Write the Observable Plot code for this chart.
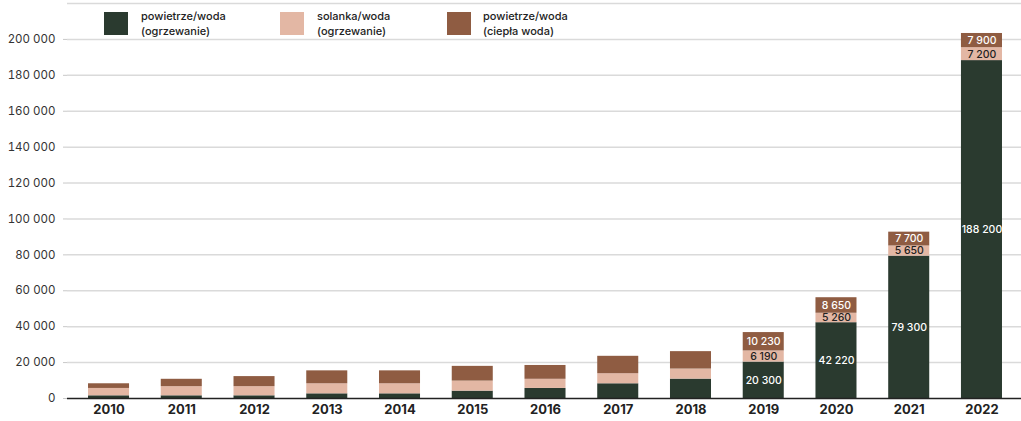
<!DOCTYPE html>
<html>
<head>
<meta charset="utf-8">
<script src="https://cdn.jsdelivr.net/npm/d3@7"></script>
<script src="https://cdn.jsdelivr.net/npm/@observablehq/plot@0.6"></script>
<style>
  body { margin: 0; background: #fff; font-family: Inter, "Noto Sans", sans-serif; }
  #chart { position: relative; width: 1021px; height: 421px; overflow: hidden; }
  .legend-item { position: absolute; top: 12px; }
  .swatch { position: absolute; top: 0; width: 24px; height: 23px; }
  .legend-label { position: absolute; top: -3px; font-size: 11px; line-height: 15px; font-weight: 500; color: #222; white-space: nowrap; }
</style>
</head>
<body>
<div id="chart"></div>
<script>
// Heat pump sales by type, stacked per year
const years = [2010, 2011, 2012, 2013, 2014, 2015, 2016, 2017, 2018, 2019, 2020, 2021, 2022];
const airHeating   = [1500, 1500, 1500, 2600, 2600, 4100, 5600, 8200, 10800, 20300, 42220, 79300, 188200];
const brineHeating = [4100, 5100, 5100, 5600, 5600, 5600, 5100, 5600, 5600, 6190, 5260, 5650, 7200];
const airWater     = [2600, 4100, 5600, 7200, 7200, 8200, 7700, 9700, 9700, 10230, 8650, 7700, 7900];

const seriesKeys = ["air", "brine", "water"];
const seriesNames = [["powietrze/woda", "(ogrzewanie)"], ["solanka/woda", "(ogrzewanie)"], ["powietrze/woda", "(ciepła woda)"]];
const seriesColors = ["#2a3a2f", "#e3b7a4", "#8f5c42"];
const labelledYears = [2019, 2020, 2021, 2022];
const yTicks = [0, 20000, 40000, 60000, 80000, 100000, 120000, 140000, 160000, 180000, 200000];
const gridTicks = [20000, 40000, 60000, 80000, 100000, 120000, 140000, 160000, 180000, 200000, 220000];

const columns = [airHeating, brineHeating, airWater];
const rows = [];
years.forEach((year, i) => {
  seriesKeys.forEach((key, s) => rows.push({year, series: key, value: columns[s][i]}));
});

const pl = d3.formatLocale({decimal: ",", thousands: "\u00a0", grouping: [3], currency: ["", ""]});
const fmt = pl.format(",d");

const chart = Plot.plot({
  width: 1021,
  height: 421,
  marginLeft: 67,
  marginRight: 0,
  marginTop: 3,
  marginBottom: 23,
  style: {fontFamily: "Inter, 'Noto Sans', sans-serif", background: "white"},
  x: {type: "band", domain: years, padding: 0.436, round: false, range: [56.3, 1033.7], label: null},
  y: {domain: [0, 220000], label: null},
  color: {domain: seriesKeys, range: seriesColors},
  marks: [
    Plot.ruleY(gridTicks, {stroke: "#dadada", strokeWidth: 1.5}),
    Plot.barY(rows, {x: "year", y: "value", fill: "series", order: seriesKeys}),
    Plot.ruleY([0], {stroke: "#222", strokeWidth: 1.5}),
    Plot.text(rows, Plot.stackY({
      filter: d => labelledYears.includes(d.year),
      x: "year", y: "value", z: "series", order: seriesKeys,
      text: d => fmt(d.value),
      fill: d => d.series === "brine" ? "#222" : "#ffffff",
      fontSize: 10.5,
      fontWeight: 500
    })),
    Plot.axisX({tickSize: 0, tickPadding: 6, tickFormat: d => String(d), fontSize: 13, fontWeight: "bold", fill: "#222"}),
    Plot.axisY({ticks: yTicks, tickSize: 4, tickPadding: 8, tickFormat: fmt, fontSize: 11.5, fill: "#333", stroke: "#c8c8c8"})
  ]
});

const host = document.getElementById("chart");
host.appendChild(chart);

// Legend drawn over the upper part of the plot
const legendX = [[104, 141], [280, 317], [447, 483]];
seriesKeys.forEach((key, s) => {
  const item = document.createElement("div");
  item.className = "legend-item";
  item.style.left = "0px";
  const sw = document.createElement("div");
  sw.className = "swatch";
  sw.style.left = legendX[s][0] + "px";
  sw.style.background = seriesColors[s];
  const lab = document.createElement("div");
  lab.className = "legend-label";
  lab.style.left = legendX[s][1] + "px";
  lab.innerHTML = seriesNames[s].join("<br>");
  item.appendChild(sw);
  item.appendChild(lab);
  host.appendChild(item);
});
</script>
</body>
</html>
